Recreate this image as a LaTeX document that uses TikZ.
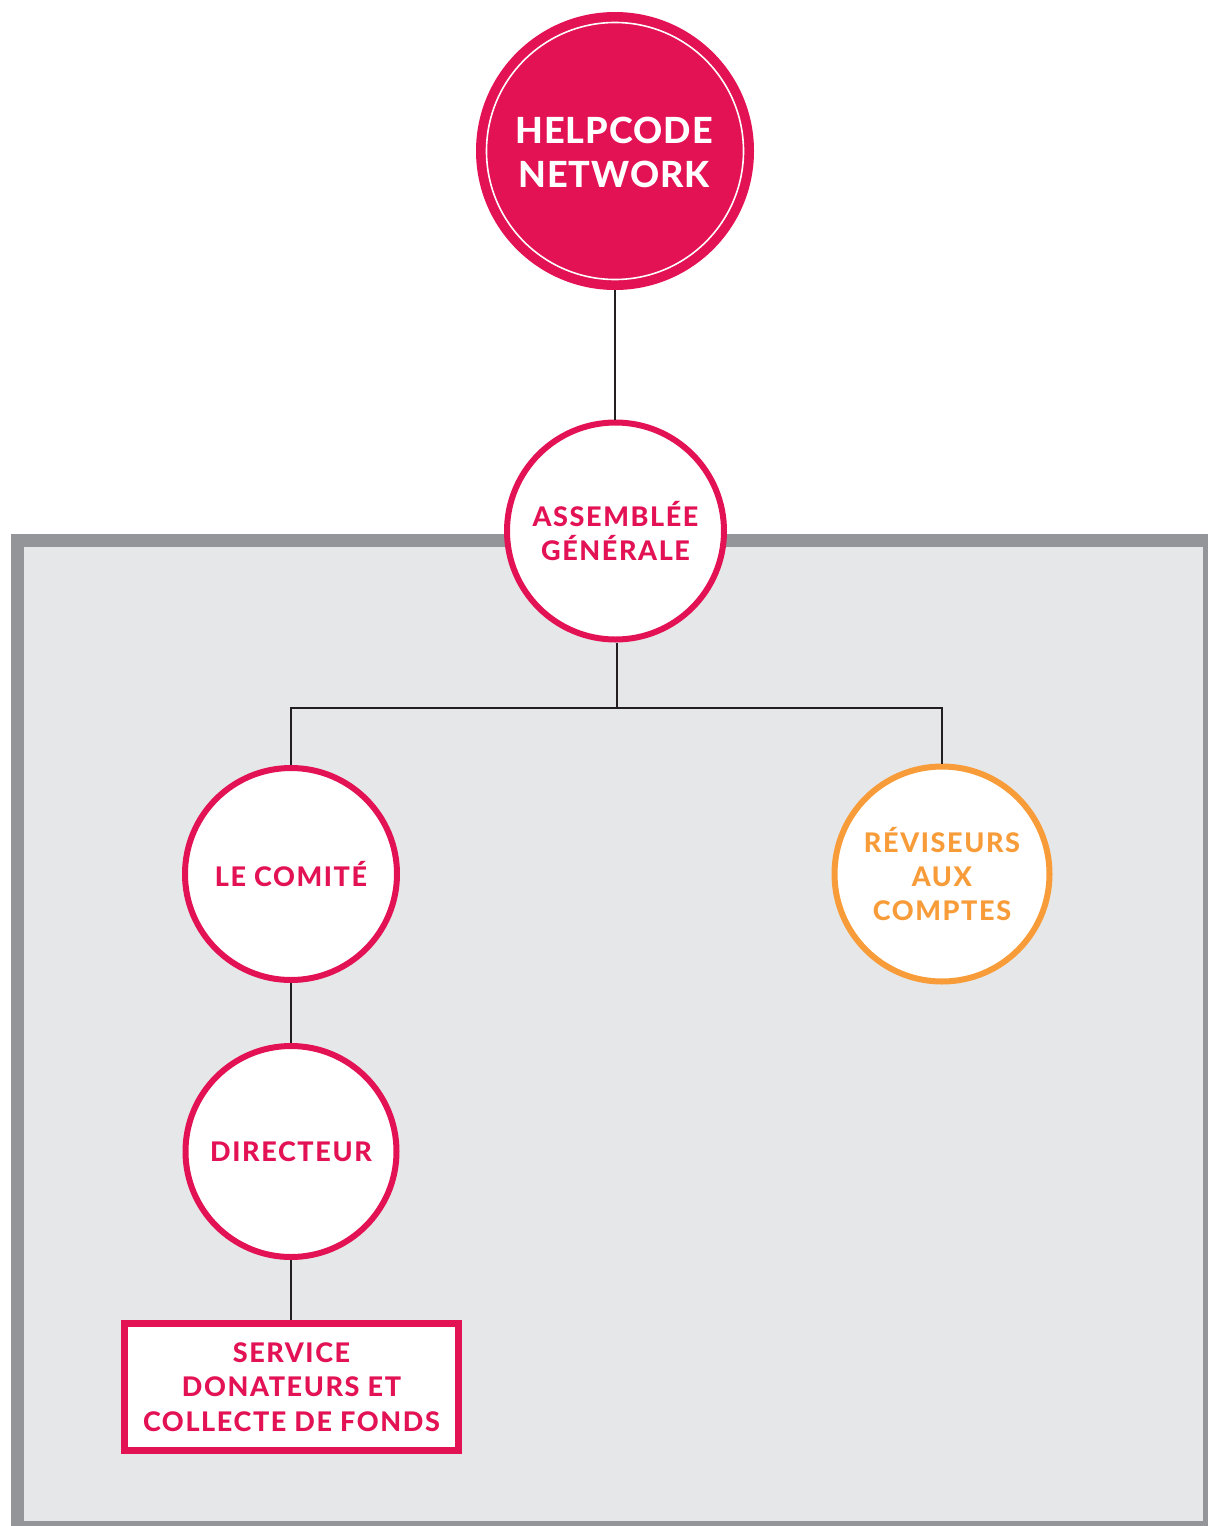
\documentclass[tikz,border=0pt]{standalone}
\usepackage{fontspec}
\setmainfont{Lato}[BoldFont={Lato Heavy}]
\definecolor{crim}{HTML}{E31254}
\definecolor{orng}{HTML}{F89C3A}
\definecolor{frameg}{HTML}{939598}
\definecolor{fillg}{HTML}{E6E7E8}
\definecolor{ink}{HTML}{231F20}
\begin{document}
\begin{tikzpicture}[x=1pt,y=-1pt,
  lbl/.style={font=\fontsize{27}{34.3}\selectfont\bfseries\addfontfeature{LetterSpace=6}},
  bubble/.style={circle,draw=crim,line width=6pt,fill=white,text=crim,align=center,inner sep=0pt,lbl},
  conn/.style={draw=ink,line width=1.8pt}]
\useasboundingbox (0,0) rectangle (1208,1526);
% grey frame
\fill[frameg] (11,534) rectangle (1208,1526);
\fill[fillg] (24,547) rectangle (1203,1521);
% top circle
\node[circle,fill=crim,minimum size=278pt,inner sep=0pt] (top) at (615,151) {};
\draw[white,line width=1.6pt] (top.center) circle (128.5pt);
\node[text=white,align=center,font=\fontsize{36}{44}\selectfont\bfseries\addfontfeature{LetterSpace=3}] (toptxt) at (614,152) {HELPCODE\\NETWORK};
% nodes
\node[bubble,minimum size=217pt] (ag) at (615.5,531) {ASSEMBLÉE\\GÉNÉRALE};
\node[bubble,minimum size=212pt] (com) at (291,874) {LE COMITÉ};
\node[bubble,draw=orng,text=orng,minimum size=215pt] (rev) at (942,874) {RÉVISEURS\\AUX\\COMPTES};
\node[bubble,minimum size=211pt] (dir) at (291,1151.5) {DIRECTEUR};
\node[draw=crim,line width=6.5pt,fill=white,text=crim,align=center,inner sep=0pt,
  minimum width=334pt,minimum height=127pt,lbl] (svc) at (291.5,1387) {SERVICE\\DONATEURS ET\\COLLECTE DE FONDS};
% connectors
\coordinate (j) at (617,708);
\draw[conn] (top.south) -- (top.south |- ag.north);
\draw[conn] (ag.south -| j) -- (j);
\draw[conn] (j) -| (com.north);
\draw[conn] (j) -| (rev.north);
\draw[conn] (com.south) -- (dir.north);
\draw[conn] (dir.south) -- (dir.south |- svc.north);
\end{tikzpicture}
\end{document}
